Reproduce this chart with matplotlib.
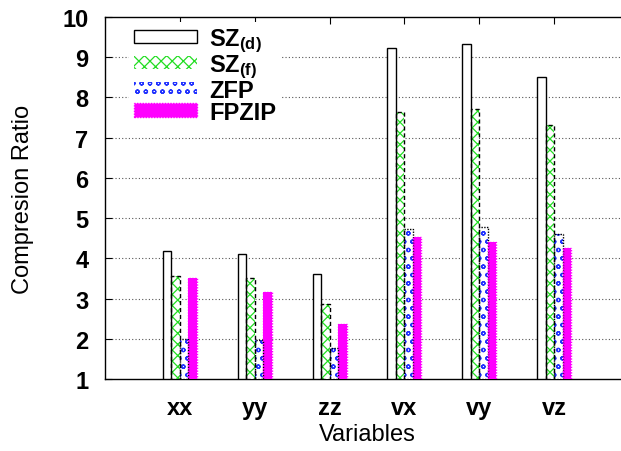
import numpy as np
import matplotlib
matplotlib.use("Agg")
import matplotlib.pyplot as plt
from matplotlib.patches import Patch

plt.rcParams['font.family'] = ['Liberation Sans', 'DejaVu Sans']
plt.rcParams['mathtext.fontset'] = 'custom'
plt.rcParams['mathtext.rm'] = 'Liberation Sans'
plt.rcParams['mathtext.bf'] = 'Liberation Sans:bold'
plt.rcParams['hatch.linewidth'] = 0.9

variables = ["xx", "yy", "zz", "vx", "vy", "vz"]
sz_d = [4.17, 4.12, 3.60, 9.22, 9.32, 8.50]
sz_f = [3.56, 3.52, 2.86, 7.63, 7.71, 7.32]
zfp = [2.00, 1.98, 1.77, 4.73, 4.79, 4.61]
fpzip = [3.52, 3.17, 2.36, 4.53, 4.41, 4.26]

labels = [r"$\mathbf{SZ_{(d)}}$", r"$\mathbf{SZ_{(f)}}$", "ZFP", "FPZIP"]

fig = plt.figure(figsize=(6.21, 4.52), dpi=100)
ax = fig.add_axes([105 / 621, 72 / 452, 524 / 621, 362 / 452])

x = np.arange(len(variables))
w = 0.114
base = 1.0

def bars(vals, off, face, hatch, hcol, ecol, ls, z):
    h = np.array(vals) - base
    # hatch layer (hatch drawn in edge colour)
    if hatch:
        ax.bar(x + off * w, h, w, bottom=base, color=face, hatch=hatch,
               edgecolor=hcol, linewidth=0, zorder=z)
    else:
        ax.bar(x + off * w, h, w, bottom=base, color=face, linewidth=0, zorder=z)
    # outline layer
    ax.bar(x + off * w, h, w, bottom=base, fill=False, edgecolor=ecol,
           linewidth=1.0, linestyle=ls, zorder=z + 0.1)

bars(sz_d, -1.5, "white", None, None, "black", "-", 3)
bars(sz_f, -0.5, "white", "xxx", "#22dd22", "black", (0, (3, 2)), 3)
bars(zfp, 0.5, "white", "oo", "#2233ff", "black", (0, (1, 1)), 3)
bars(fpzip, 1.5, "#ff00ff", None, None, "#ff00ff", (0, (1, 1)), 3)

ax.set_xlim(-1, 6)
ax.set_ylim(1, 10)
ax.set_yticks(range(1, 11))
ax.set_xticks(x)
ax.set_xticklabels(variables, fontsize=17, fontweight="bold")
for t in ax.get_yticklabels():
    t.set_fontsize(17)
    t.set_fontweight("bold")
ax.tick_params(axis="both", direction="in", top=True, right=True, length=5,
               width=0.8)
ax.tick_params(axis="x", pad=12)
ax.tick_params(axis="y", pad=12)
for y in range(2, 10):
    ax.axhline(y, color="#555555", linestyle=(0, (1, 2)), linewidth=0.8, zorder=1)
for s in ax.spines.values():
    s.set_linewidth(1.0)

ax.set_xlabel("Variables", fontsize=17, labelpad=3)
ax.set_ylabel("Compresion Ratio", fontsize=17, labelpad=20)

handles = [
    Patch(facecolor="white", edgecolor="black", linewidth=1.0),
    Patch(facecolor="white", edgecolor="#22dd22", hatch="xxx", linewidth=0),
    Patch(facecolor="white", edgecolor="#2233ff", hatch="oo", linewidth=0),
    Patch(facecolor="#ff00ff", edgecolor="#ff00ff", linewidth=1.0, linestyle=(0, (1, 1))),
]
leg = ax.legend(handles, labels, loc="upper left", bbox_to_anchor=(0.023, 1.02),
                prop={"size": 17, "weight": "bold"}, handlelength=2.7,
                handleheight=0.5, handletextpad=0.5, labelspacing=-0.05,
                frameon=True, fancybox=False, borderpad=0.2)
leg.get_frame().set_edgecolor("none")
leg.get_frame().set_facecolor("white")
leg.get_frame().set_alpha(1)
leg.set_zorder(5)

fig.savefig("out.png", dpi=100)
